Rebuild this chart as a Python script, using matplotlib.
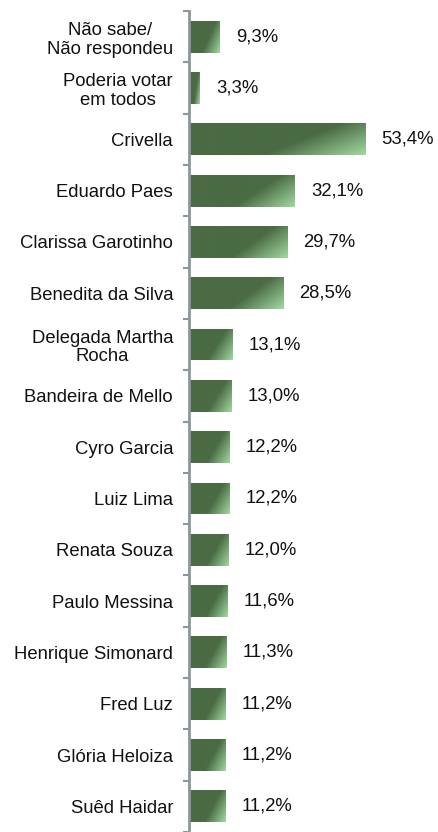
import numpy as np
import matplotlib.pyplot as plt
from matplotlib.colors import to_rgb

plt.rcParams['font.family'] = ['Liberation Sans', 'DejaVu Sans']

# candidates, top to bottom
labels = ['Não sabe/\nNão respondeu', 'Poderia votar\nem todos', 'Crivella',
          'Eduardo Paes', 'Clarissa Garotinho', 'Benedita da Silva',
          'Delegada Martha\nRocha', 'Bandeira de Mello', 'Cyro Garcia',
          'Luiz Lima', 'Renata Souza', 'Paulo Messina', 'Henrique Simonard',
          'Fred Luz', 'Glória Heloiza', 'Suêd Haidar']
values = [9.3, 3.3, 53.4, 32.1, 29.7, 28.5, 13.1, 13.0, 12.2, 12.2,
          12.0, 11.6, 11.3, 11.2, 11.2, 11.2]

dark = np.array(to_rgb('#4a6b44'))
light = np.array(to_rgb('#a3d9a1'))

fig = plt.figure(figsize=(4.39, 8.32), dpi=100)
ax = fig.add_axes([189 / 439, 0, 250 / 439, (832 - 11) / 832])

ypos = np.arange(len(values))
bars = ax.barh(ypos, values, height=0.62, color=dark, linewidth=0)

# diagonal gradient, light in the lower right corner of each bar
u = np.linspace(0, 1, 200)[None, :]
v = np.linspace(0, 1, 60)[:, None]
t = (u + 0.45 * v) / 1.45
t = np.clip((t - 0.6) / 0.4, 0, 1)
grad = dark + (light - dark) * t[..., None]

for b in bars:
    x0, y0 = b.get_x(), b.get_y()
    w, h = b.get_width(), b.get_height()
    im = ax.imshow(grad, extent=[x0, x0 + w, y0 + h, y0], aspect='auto',
                   origin='upper', interpolation='bilinear', zorder=3)
    im.set_clip_path(b)

for i, val in enumerate(values):
    ax.annotate(f'{val:.1f}%'.replace('.', ','), (val, i), xytext=(11.5, 0),
                textcoords='offset points', va='center', ha='left',
                fontsize=13.3, color='#111111')

ax.set_xlim(0, 250 / 3.3)
ax.set_ylim(-0.5 + (832 - 11) / 51.5, -0.5)

ax.set_yticks(ypos)
ax.set_yticklabels(labels, fontsize=13.3, color='#111111',
                   multialignment='center', linespacing=1.15)
ax.set_yticks(np.arange(len(values) + 1) - 0.5, minor=True)
ax.tick_params(axis='y', which='major', length=0, pad=11.5)
ax.tick_params(axis='y', which='minor', length=4.5, width=1.5, color='#8f959c')
ax.set_xticks([])

for s in ['top', 'right', 'bottom']:
    ax.spines[s].set_visible(False)
ax.spines['left'].set_color('#8f959c')
ax.spines['left'].set_linewidth(2)
ax.spines['left'].set_zorder(5)

fig.savefig('out.png', dpi=100)
